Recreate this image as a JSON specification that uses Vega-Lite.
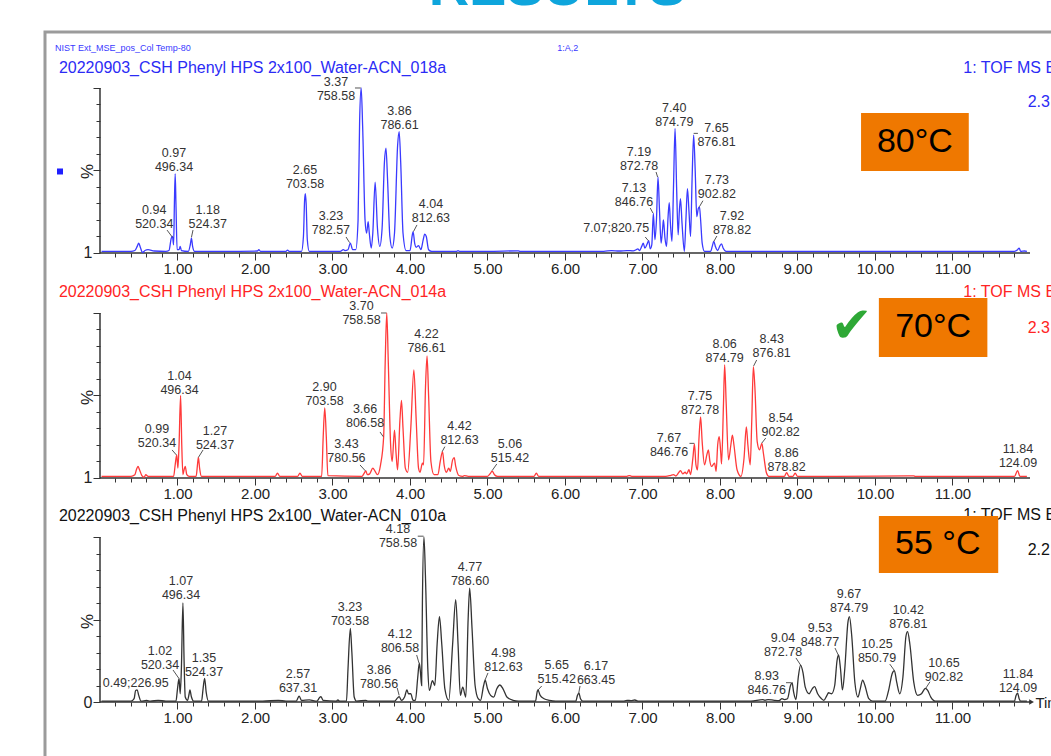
{
"$schema": "https://vega.github.io/schema/vega-lite/v6.json",
"width": 1051, "height": 756,
"autosize": {"type": "fit", "contains": "padding"},
"padding": 0,
"background": "white",
"config": {"view": {"stroke": null}, "font": "Liberation Sans", "text": {"font": "Liberation Sans"}},
"datasets": {
"blue": [
{"t":0.02,"v":1},{"t":0.40,"v":1},{"t":0.45,"v":1.5},{"t":0.48,"v":4},{"t":0.50,"v":6},{"t":0.52,"v":3.5},{"t":0.55,"v":0.3},{"t":0.58,"v":1.5},{"t":0.62,"v":2},{"t":0.70,"v":1.2},{"t":0.85,"v":1},{"t":0.89,"v":1.5},{"t":0.92,"v":9},{"t":0.935,"v":10},{"t":0.95,"v":5},{"t":0.96,"v":30},{"t":0.97,"v":48},{"t":0.98,"v":30},{"t":0.995,"v":2},{"t":1.02,"v":2},{"t":1.035,"v":4},{"t":1.05,"v":1.5},{"t":1.14,"v":1},{"t":1.165,"v":5},{"t":1.18,"v":9},{"t":1.195,"v":4},{"t":1.22,"v":1},{"t":1.60,"v":1},{"t":2.03,"v":1.2},{"t":2.05,"v":2},{"t":2.07,"v":1},{"t":2.40,"v":1},{"t":2.42,"v":1.8},{"t":2.44,"v":1},{"t":2.60,"v":1},{"t":2.625,"v":10},{"t":2.64,"v":32},{"t":2.65,"v":36},{"t":2.66,"v":30},{"t":2.675,"v":8},{"t":2.70,"v":1},{"t":3.10,"v":1},{"t":3.14,"v":2},{"t":3.16,"v":1.5},{"t":3.20,"v":2},{"t":3.23,"v":6},{"t":3.26,"v":2},{"t":3.30,"v":2},{"t":3.33,"v":20},{"t":3.35,"v":80},{"t":3.37,"v":100},{"t":3.39,"v":75},{"t":3.42,"v":20},{"t":3.44,"v":12},{"t":3.46,"v":19},{"t":3.475,"v":12},{"t":3.50,"v":3},{"t":3.52,"v":12},{"t":3.55,"v":43},{"t":3.58,"v":15},{"t":3.61,"v":4},{"t":3.64,"v":15},{"t":3.67,"v":55},{"t":3.69,"v":63.5},{"t":3.71,"v":45},{"t":3.74,"v":10},{"t":3.77,"v":3},{"t":3.80,"v":12},{"t":3.84,"v":65},{"t":3.86,"v":73.5},{"t":3.88,"v":55},{"t":3.91,"v":12},{"t":3.95,"v":1.5},{"t":4.00,"v":1.5},{"t":4.03,"v":11},{"t":4.04,"v":13},{"t":4.06,"v":6},{"t":4.08,"v":3.5},{"t":4.11,"v":4.5},{"t":4.14,"v":2},{"t":4.17,"v":8},{"t":4.19,"v":11.5},{"t":4.21,"v":10},{"t":4.24,"v":2},{"t":4.28,"v":1},{"t":4.60,"v":1},{"t":4.62,"v":1.5},{"t":4.64,"v":1},{"t":5.00,"v":1},{"t":5.40,"v":1.3},{"t":5.42,"v":1},{"t":6.50,"v":1},{"t":6.60,"v":1.5},{"t":6.70,"v":1.2},{"t":6.80,"v":1.5},{"t":6.88,"v":1.3},{"t":6.92,"v":2},{"t":6.94,"v":2.5},{"t":6.96,"v":1.5},{"t":6.99,"v":4},{"t":7.01,"v":6},{"t":7.03,"v":3},{"t":7.06,"v":5.5},{"t":7.08,"v":7.5},{"t":7.10,"v":2.5},{"t":7.12,"v":5},{"t":7.14,"v":24},{"t":7.16,"v":8},{"t":7.18,"v":20},{"t":7.20,"v":46},{"t":7.22,"v":25},{"t":7.24,"v":6},{"t":7.26,"v":15},{"t":7.27,"v":20},{"t":7.29,"v":9},{"t":7.31,"v":4},{"t":7.33,"v":22},{"t":7.345,"v":30.5},{"t":7.36,"v":18},{"t":7.38,"v":7},{"t":7.40,"v":40},{"t":7.42,"v":75.5},{"t":7.44,"v":40},{"t":7.46,"v":11},{"t":7.475,"v":25},{"t":7.49,"v":33},{"t":7.51,"v":18},{"t":7.54,"v":1},{"t":7.56,"v":20},{"t":7.58,"v":39},{"t":7.60,"v":25},{"t":7.62,"v":10},{"t":7.64,"v":45},{"t":7.66,"v":71.5},{"t":7.68,"v":50},{"t":7.70,"v":22},{"t":7.72,"v":27},{"t":7.735,"v":28},{"t":7.75,"v":20},{"t":7.77,"v":6},{"t":7.80,"v":1},{"t":7.88,"v":1},{"t":7.90,"v":4},{"t":7.92,"v":7},{"t":7.94,"v":4},{"t":7.97,"v":1.5},{"t":8.00,"v":4.5},{"t":8.02,"v":5.5},{"t":8.04,"v":3},{"t":8.08,"v":1},{"t":9.00,"v":1},{"t":11.80,"v":1},{"t":11.84,"v":2},{"t":11.86,"v":3},{"t":11.88,"v":1},{"t":11.93,"v":1.2},{"t":11.96,"v":1}
],
"red": [
{"t":0.02,"v":1},{"t":0.40,"v":1},{"t":0.45,"v":2},{"t":0.47,"v":5},{"t":0.49,"v":7},{"t":0.51,"v":5},{"t":0.54,"v":1.5},{"t":0.57,"v":0.5},{"t":0.59,"v":2},{"t":0.62,"v":1},{"t":0.95,"v":1},{"t":0.97,"v":8},{"t":0.99,"v":14},{"t":1.005,"v":6},{"t":1.02,"v":20},{"t":1.04,"v":50},{"t":1.055,"v":20},{"t":1.07,"v":2},{"t":1.085,"v":5},{"t":1.10,"v":7},{"t":1.12,"v":2},{"t":1.15,"v":1},{"t":1.24,"v":1},{"t":1.26,"v":9},{"t":1.27,"v":12.5},{"t":1.285,"v":6},{"t":1.31,"v":1},{"t":2.26,"v":1},{"t":2.29,"v":3},{"t":2.32,"v":1},{"t":2.55,"v":1},{"t":2.58,"v":3},{"t":2.61,"v":1},{"t":2.86,"v":1},{"t":2.88,"v":25},{"t":2.90,"v":42.5},{"t":2.92,"v":25},{"t":2.94,"v":1.5},{"t":3.38,"v":1},{"t":3.41,"v":3},{"t":3.43,"v":4.3},{"t":3.45,"v":2},{"t":3.48,"v":2.5},{"t":3.52,"v":6},{"t":3.55,"v":4},{"t":3.58,"v":2},{"t":3.62,"v":8},{"t":3.66,"v":25},{"t":3.68,"v":70},{"t":3.70,"v":100},{"t":3.72,"v":70},{"t":3.75,"v":20},{"t":3.77,"v":10},{"t":3.80,"v":29},{"t":3.82,"v":15},{"t":3.84,"v":5},{"t":3.87,"v":35},{"t":3.89,"v":47},{"t":3.91,"v":30},{"t":3.94,"v":6},{"t":3.97,"v":3.5},{"t":4.01,"v":30},{"t":4.05,"v":65.5},{"t":4.08,"v":35},{"t":4.11,"v":6},{"t":4.13,"v":3.5},{"t":4.16,"v":9},{"t":4.175,"v":8},{"t":4.20,"v":55},{"t":4.22,"v":74},{"t":4.24,"v":50},{"t":4.27,"v":10},{"t":4.31,"v":2},{"t":4.36,"v":2},{"t":4.39,"v":10},{"t":4.42,"v":16},{"t":4.44,"v":8},{"t":4.47,"v":3.5},{"t":4.50,"v":6},{"t":4.52,"v":4},{"t":4.55,"v":11},{"t":4.57,"v":12.3},{"t":4.59,"v":7},{"t":4.63,"v":1.5},{"t":4.68,"v":1},{"t":4.70,"v":1.5},{"t":4.75,"v":1},{"t":5.00,"v":1},{"t":5.04,"v":3},{"t":5.06,"v":4.2},{"t":5.09,"v":2},{"t":5.13,"v":1},{"t":5.60,"v":1},{"t":5.63,"v":3},{"t":5.66,"v":1},{"t":6.80,"v":1},{"t":6.83,"v":1.5},{"t":6.86,"v":1},{"t":7.30,"v":1},{"t":7.36,"v":1.5},{"t":7.40,"v":2},{"t":7.43,"v":1.2},{"t":7.47,"v":3.5},{"t":7.49,"v":4.5},{"t":7.52,"v":2.5},{"t":7.55,"v":3.5},{"t":7.57,"v":2.5},{"t":7.60,"v":5},{"t":7.62,"v":2},{"t":7.65,"v":12},{"t":7.67,"v":20.6},{"t":7.69,"v":8},{"t":7.71,"v":5},{"t":7.73,"v":25},{"t":7.75,"v":37},{"t":7.77,"v":22},{"t":7.80,"v":8},{"t":7.83,"v":14},{"t":7.85,"v":17},{"t":7.87,"v":10},{"t":7.89,"v":7},{"t":7.93,"v":9},{"t":7.95,"v":4},{"t":7.97,"v":20},{"t":7.99,"v":25},{"t":8.01,"v":15},{"t":8.02,"v":8.5},{"t":8.045,"v":45},{"t":8.06,"v":68.5},{"t":8.08,"v":45},{"t":8.11,"v":11},{"t":8.14,"v":20},{"t":8.16,"v":26},{"t":8.18,"v":20},{"t":8.22,"v":5},{"t":8.27,"v":1},{"t":8.31,"v":12},{"t":8.34,"v":31},{"t":8.36,"v":20},{"t":8.39,"v":8},{"t":8.41,"v":35},{"t":8.43,"v":67.5},{"t":8.45,"v":55},{"t":8.48,"v":22},{"t":8.51,"v":17},{"t":8.54,"v":21},{"t":8.56,"v":15},{"t":8.60,"v":3},{"t":8.63,"v":1},{"t":8.83,"v":1},{"t":8.86,"v":3.2},{"t":8.89,"v":1},{"t":8.94,"v":1},{"t":8.97,"v":3},{"t":9.00,"v":1},{"t":9.50,"v":1},{"t":10.50,"v":1.3},{"t":10.52,"v":1},{"t":11.80,"v":1},{"t":11.84,"v":4.5},{"t":11.87,"v":1},{"t":11.96,"v":1}
],
"black": [
{"t":0.02,"v":0.5},{"t":0.40,"v":0.5},{"t":0.44,"v":2},{"t":0.46,"v":7},{"t":0.48,"v":7.3},{"t":0.50,"v":4},{"t":0.53,"v":0.5},{"t":0.60,"v":1},{"t":0.65,"v":0.5},{"t":0.75,"v":1},{"t":0.85,"v":0.5},{"t":0.98,"v":0.5},{"t":1.00,"v":8},{"t":1.02,"v":14.3},{"t":1.035,"v":5},{"t":1.05,"v":20},{"t":1.07,"v":60},{"t":1.085,"v":25},{"t":1.10,"v":3},{"t":1.13,"v":1},{"t":1.15,"v":5},{"t":1.16,"v":7.3},{"t":1.18,"v":3},{"t":1.21,"v":0.5},{"t":1.31,"v":0.5},{"t":1.33,"v":8},{"t":1.35,"v":14.3},{"t":1.37,"v":6},{"t":1.40,"v":0.5},{"t":2.10,"v":0.5},{"t":2.30,"v":1},{"t":2.40,"v":0.5},{"t":2.53,"v":0.5},{"t":2.56,"v":3},{"t":2.57,"v":3.6},{"t":2.60,"v":1},{"t":2.70,"v":1.3},{"t":2.80,"v":0.5},{"t":2.83,"v":2.5},{"t":2.85,"v":3.3},{"t":2.88,"v":1},{"t":3.05,"v":0.5},{"t":3.07,"v":1.3},{"t":3.09,"v":0.5},{"t":3.18,"v":0.5},{"t":3.20,"v":20},{"t":3.23,"v":44.6},{"t":3.25,"v":30},{"t":3.28,"v":3},{"t":3.31,"v":0.5},{"t":3.43,"v":1},{"t":3.46,"v":0.5},{"t":3.80,"v":0.5},{"t":3.84,"v":2.5},{"t":3.86,"v":3.2},{"t":3.89,"v":1},{"t":3.93,"v":3},{"t":3.96,"v":7.3},{"t":3.98,"v":5},{"t":4.01,"v":5},{"t":4.04,"v":1},{"t":4.07,"v":1},{"t":4.10,"v":15},{"t":4.12,"v":23.5},{"t":4.135,"v":18},{"t":4.15,"v":10},{"t":4.16,"v":60},{"t":4.18,"v":100},{"t":4.20,"v":75},{"t":4.23,"v":20},{"t":4.25,"v":7},{"t":4.29,"v":13},{"t":4.32,"v":10},{"t":4.35,"v":35},{"t":4.38,"v":51.7},{"t":4.41,"v":35},{"t":4.45,"v":8},{"t":4.50,"v":1},{"t":4.55,"v":35},{"t":4.59,"v":62},{"t":4.62,"v":35},{"t":4.65,"v":4},{"t":4.68,"v":9},{"t":4.72,"v":3},{"t":4.75,"v":50},{"t":4.77,"v":69},{"t":4.80,"v":45},{"t":4.84,"v":10},{"t":4.88,"v":2},{"t":4.91,"v":1},{"t":4.95,"v":10},{"t":4.97,"v":13.3},{"t":5.00,"v":8},{"t":5.04,"v":4},{"t":5.08,"v":3},{"t":5.12,"v":8},{"t":5.16,"v":10.3},{"t":5.20,"v":8},{"t":5.25,"v":3},{"t":5.33,"v":1},{"t":5.40,"v":0.5},{"t":5.62,"v":0.5},{"t":5.64,"v":6},{"t":5.65,"v":7.3},{"t":5.68,"v":4},{"t":5.73,"v":2},{"t":5.80,"v":1},{"t":5.88,"v":0.5},{"t":6.14,"v":0.5},{"t":6.16,"v":4},{"t":6.18,"v":5.3},{"t":6.20,"v":2},{"t":6.23,"v":0.5},{"t":6.75,"v":0.5},{"t":6.80,"v":1},{"t":6.85,"v":0.8},{"t":6.90,"v":1.2},{"t":6.95,"v":0.5},{"t":8.40,"v":0.5},{"t":8.55,"v":1.5},{"t":8.58,"v":1},{"t":8.62,"v":1.5},{"t":8.70,"v":1},{"t":8.76,"v":0.8},{"t":8.80,"v":2},{"t":8.83,"v":1.5},{"t":8.87,"v":2},{"t":8.91,"v":10},{"t":8.93,"v":11.7},{"t":8.95,"v":6},{"t":8.98,"v":1.5},{"t":9.01,"v":15},{"t":9.04,"v":22.4},{"t":9.07,"v":18},{"t":9.10,"v":9},{"t":9.15,"v":5},{"t":9.19,"v":8},{"t":9.22,"v":9.3},{"t":9.26,"v":5},{"t":9.31,"v":2},{"t":9.34,"v":1},{"t":9.38,"v":4},{"t":9.40,"v":5.6},{"t":9.44,"v":5},{"t":9.48,"v":10},{"t":9.51,"v":25},{"t":9.53,"v":28.5},{"t":9.555,"v":20},{"t":9.58,"v":7.3},{"t":9.61,"v":20},{"t":9.65,"v":48},{"t":9.67,"v":51.7},{"t":9.70,"v":40},{"t":9.74,"v":12},{"t":9.78,"v":3},{"t":9.81,"v":8},{"t":9.84,"v":13.3},{"t":9.87,"v":10},{"t":9.92,"v":2},{"t":9.97,"v":0.5},{"t":10.13,"v":0.5},{"t":10.18,"v":8},{"t":10.22,"v":17},{"t":10.25,"v":19},{"t":10.28,"v":12},{"t":10.32,"v":5},{"t":10.36,"v":15},{"t":10.40,"v":40},{"t":10.42,"v":42.6},{"t":10.45,"v":35},{"t":10.50,"v":12},{"t":10.55,"v":4},{"t":10.60,"v":5},{"t":10.65,"v":8.3},{"t":10.68,"v":7},{"t":10.72,"v":3},{"t":10.78,"v":0.5},{"t":11.80,"v":0.5},{"t":11.82,"v":4},{"t":11.84,"v":5.3},{"t":11.86,"v":2},{"t":11.88,"v":0.5},{"t":11.96,"v":0.5}
],
"lab1": [
{"l":"0.94\n520.34","lx":0.70,"ly":21.8,"ax":0.865,"ay":13.9,"bx":0.935,"by":9.5},
{"l":"0.97\n496.34","lx":0.955,"ly":56.3},
{"l":"1.18\n524.37","lx":1.39,"ly":21.8,"ax":1.20,"ay":13.9,"bx":1.18,"by":9.5},
{"l":"2.65\n703.58","lx":2.645,"ly":45.8},
{"l":"3.23\n782.57","lx":2.98,"ly":18.2,"ax":3.175,"ay":9.7,"bx":3.22,"by":6.3},
{"l":"3.37\n758.58","lx":3.045,"ly":99.3,"ax":3.29,"ay":100,"bx":3.365,"by":100},
{"l":"3.86\n786.61","lx":3.865,"ly":81.8},
{"l":"4.04\n812.63","lx":4.27,"ly":25.5,"ax":4.09,"ay":17,"bx":4.045,"by":13},
{"l":"7.07;820.75","lx":6.66,"ly":11,"ax":7.035,"ay":9.7,"bx":7.075,"by":7.5},
{"l":"7.13\n846.76","lx":6.89,"ly":35.2,"ax":7.10,"ay":27.3,"bx":7.135,"by":24.2},
{"l":"7.19\n872.78","lx":6.955,"ly":57,"ax":7.175,"ay":49.1,"bx":7.195,"by":46},
{"l":"7.40\n874.79","lx":7.41,"ly":83.8},
{"l":"7.65\n876.81","lx":7.955,"ly":71.5,"ax":7.66,"ay":72.5,"bx":7.715,"by":72.5},
{"l":"7.73\n902.82","lx":7.96,"ly":40,"ax":7.78,"ay":31.7,"bx":7.735,"by":28.1},
{"l":"7.92\n878.82","lx":8.155,"ly":18.2,"ax":7.96,"ay":10.3,"bx":7.92,"by":7}
],
"lab2": [
{"l":"0.99\n520.34","lx":0.735,"ly":25.5,"ax":0.93,"ay":17,"bx":0.985,"by":14},
{"l":"1.04\n496.34","lx":1.026,"ly":57.8},
{"l":"1.27\n524.37","lx":1.484,"ly":24.3,"ax":1.33,"ay":17,"bx":1.27,"by":12.5},
{"l":"2.90\n703.58","lx":2.897,"ly":50.9},
{"l":"3.43\n780.56","lx":3.18,"ly":16.4,"ax":3.355,"ay":7.9,"bx":3.425,"by":4.3},
{"l":"3.66\n806.58","lx":3.42,"ly":37.6,"ax":3.613,"ay":27.9,"bx":3.655,"by":25},
{"l":"3.70\n758.58","lx":3.374,"ly":100,"ax":3.626,"ay":100,"bx":3.695,"by":100},
{"l":"4.22\n786.61","lx":4.213,"ly":83.1},
{"l":"4.42\n812.63","lx":4.639,"ly":27.3,"ax":4.45,"ay":19,"bx":4.415,"by":16},
{"l":"5.06\n515.42","lx":5.29,"ly":16.4,"ax":5.12,"ay":8.5,"bx":5.06,"by":4.5},
{"l":"7.67\n846.76","lx":7.342,"ly":20,"ax":7.606,"ay":21,"bx":7.668,"by":21},
{"l":"7.75\n872.78","lx":7.742,"ly":45.5},
{"l":"8.06\n874.79","lx":8.06,"ly":77},
{"l":"8.43\n876.81","lx":8.667,"ly":80,"ax":8.473,"ay":71.5,"bx":8.434,"by":67.9},
{"l":"8.54\n902.82","lx":8.783,"ly":32.3,"ax":8.59,"ay":24.2,"bx":8.54,"by":21.2},
{"l":"8.86\n878.82","lx":8.86,"ly":11.1},
{"l":"11.84\n124.09","lx":11.845,"ly":13.4}
],
"lab3": [
{"l":"0.49;226.95","lx":0.461,"ly":7.2},
{"l":"1.02\n520.34","lx":0.774,"ly":26.7,"ax":0.942,"ay":19.4,"bx":1.015,"by":14.5},
{"l":"1.07\n496.34","lx":1.045,"ly":69.1},
{"l":"1.35\n524.37","lx":1.342,"ly":22.6},
{"l":"2.57\n637.31","lx":2.555,"ly":12.6},
{"l":"3.23\n703.58","lx":3.226,"ly":53.3},
{"l":"3.86\n780.56","lx":3.60,"ly":15.2,"ax":3.835,"ay":8.5,"bx":3.86,"by":4},
{"l":"4.12\n806.58","lx":3.871,"ly":37,"ax":4.086,"ay":28.5,"bx":4.116,"by":23.6},
{"l":"4.18\n758.58","lx":3.845,"ly":100.6,"ax":4.10,"ay":100.5,"bx":4.175,"by":100.5},
{"l":"4.77\n786.60","lx":4.774,"ly":77.6},
{"l":"4.98\n812.63","lx":5.206,"ly":25.7,"ax":5.006,"ay":17.6,"bx":4.968,"by":13.3},
{"l":"5.65\n515.42","lx":5.893,"ly":18.2,"ax":5.70,"ay":9.7,"bx":5.647,"by":7},
{"l":"6.17\n663.45","lx":6.40,"ly":17.6,"ax":6.194,"ay":9.7,"bx":6.177,"by":5.3},
{"l":"8.93\n846.76","lx":8.603,"ly":11.5,"ax":8.852,"ay":11.7,"bx":8.916,"by":11.7},
{"l":"9.04\n872.78","lx":8.813,"ly":34.8,"ax":8.98,"ay":26.7,"bx":9.04,"by":22.4},
{"l":"9.53\n848.77","lx":9.29,"ly":40.8,"ax":9.484,"ay":32.7,"bx":9.526,"by":28.5},
{"l":"9.67\n874.79","lx":9.665,"ly":61.1},
{"l":"10.25\n850.79","lx":10.026,"ly":31.1,"ax":10.19,"ay":23,"bx":10.252,"by":19},
{"l":"10.42\n876.81","lx":10.43,"ly":51.3},
{"l":"10.65\n902.82","lx":10.89,"ly":19.6,"ax":10.71,"ay":12.3,"bx":10.658,"by":8.5},
{"l":"11.84\n124.09","lx":11.845,"ly":12.9}
]
},
"layer": [
{
"resolve": {"scale": {"x": "independent", "y": "independent"}, "axis": {"x": "independent", "y": "independent"}},
"layer": [
{"data": {"values": [{}]}, "mark": {"type": "rect", "fill": "transparent", "stroke": "#9b9b9b", "strokeWidth": 3, "clip": true},
 "encoding": {"x": {"datum": -0.7097, "type": "quantitative", "scale": {"domain": [-1.29032, 12.27097], "nice": false, "zero": false}, "axis": null}, "x2": {"datum": 13.5},
  "y": {"datum": 133.9, "type": "quantitative", "scale": {"domain": [-304.848, 153.333], "nice": false, "zero": false}, "axis": null}, "y2": {"datum": -350}}},
{"data": {"values": [{}]}, "mark": {"type": "text", "text": "RESULTS", "font": "Liberation Sans", "fontWeight": "bold", "fontSize": 56, "color": "#0ea5dc", "align": "center", "baseline": "alphabetic", "clip": true},
 "encoding": {"x": {"datum": 5.9, "type": "quantitative", "scale": {"domain": [-1.29032, 12.27097], "nice": false, "zero": false}, "axis": null},
  "y": {"datum": 150.4, "type": "quantitative", "scale": {"domain": [-304.848, 153.333], "nice": false, "zero": false}, "axis": null}}},
{"data": {"values": [{}]}, "mark": {"type": "text", "text": "NIST Ext_MSE_pos_Col Temp-80", "fontSize": 9, "color": "#3a3aff", "align": "left", "baseline": "alphabetic", "clip": true},
 "encoding": {"x": {"datum": -0.58, "type": "quantitative", "scale": {"domain": [-1.29032, 12.27097], "nice": false, "zero": false}, "axis": null},
  "y": {"datum": 122.5, "type": "quantitative", "scale": {"domain": [-304.848, 153.333], "nice": false, "zero": false}, "axis": null}}},
{"data": {"values": [{}]}, "mark": {"type": "text", "text": "1:A,2", "fontSize": 9, "color": "#3a3aff", "align": "left", "baseline": "alphabetic", "clip": true},
 "encoding": {"x": {"datum": 5.90, "type": "quantitative", "scale": {"domain": [-1.29032, 12.27097], "nice": false, "zero": false}, "axis": null},
  "y": {"datum": 122.5, "type": "quantitative", "scale": {"domain": [-304.848, 153.333], "nice": false, "zero": false}, "axis": null}}},
{"data": {"values": [{}]}, "mark": {"type": "text", "text": "20220903_CSH Phenyl HPS 2x100_Water-ACN_018a", "fontSize": 16, "color": "#2b2bf5", "align": "left", "baseline": "alphabetic", "clip": true},
 "encoding": {"x": {"datum": -0.53, "type": "quantitative", "scale": {"domain": [-1.29032, 12.27097], "nice": false, "zero": false}, "axis": null},
  "y": {"datum": 109.3, "type": "quantitative", "scale": {"domain": [-304.848, 153.333], "nice": false, "zero": false}, "axis": null}}},
{"data": {"values": [{}]}, "mark": {"type": "text", "text": "1: TOF MS E", "fontSize": 16, "color": "#2b2bf5", "align": "left", "baseline": "alphabetic", "clip": true},
 "encoding": {"x": {"datum": 11.14, "type": "quantitative", "scale": {"domain": [-1.29032, 12.27097], "nice": false, "zero": false}, "axis": null},
  "y": {"datum": 109.3, "type": "quantitative", "scale": {"domain": [-304.848, 153.333], "nice": false, "zero": false}, "axis": null}}},
{"data": {"values": [{}]}, "mark": {"type": "text", "text": "2.3", "fontSize": 16, "color": "#2b2bf5", "align": "left", "baseline": "alphabetic", "clip": true},
 "encoding": {"x": {"datum": 11.97, "type": "quantitative", "scale": {"domain": [-1.29032, 12.27097], "nice": false, "zero": false}, "axis": null},
  "y": {"datum": 88.5, "type": "quantitative", "scale": {"domain": [-304.848, 153.333], "nice": false, "zero": false}, "axis": null}}},
{"data": {"values": [{}]}, "mark": {"type": "point", "shape": "square", "size": 36, "filled": true, "opacity": 1, "color": "#1f1fff"},
 "encoding": {"x": {"datum": -0.516, "type": "quantitative", "scale": {"domain": [-1.29032, 12.27097], "nice": false, "zero": false}, "axis": null},
  "y": {"datum": 49.4, "type": "quantitative", "scale": {"domain": [-304.848, 153.333], "nice": false, "zero": false}, "axis": null}}},
{"data": {"values": [{}]}, "mark": {"type": "rect", "color": "#ef7800"},
 "encoding": {"x": {"datum": 9.82, "type": "quantitative", "scale": {"domain": [-1.29032, 12.27097], "nice": false, "zero": false}, "axis": null}, "x2": {"datum": 11.21},
  "y": {"datum": 84.8, "type": "quantitative", "scale": {"domain": [-304.848, 153.333], "nice": false, "zero": false}, "axis": null}, "y2": {"datum": 49.7}}},
{"data": {"values": [{}]}, "mark": {"type": "text", "text": "80°C", "fontSize": 34, "color": "#000000", "align": "center", "baseline": "middle"},
 "encoding": {"x": {"datum": 10.515, "type": "quantitative", "scale": {"domain": [-1.29032, 12.27097], "nice": false, "zero": false}, "axis": null},
  "y": {"datum": 67.3, "type": "quantitative", "scale": {"domain": [-304.848, 153.333], "nice": false, "zero": false}, "axis": null}}},
{"data": {"values": [{}]}, "mark": {"type": "rule", "color": "#333333", "strokeWidth": 1.5},
 "encoding": {"x": {"datum": 0, "type": "quantitative", "scale": {"domain": [-1.29032, 12.27097], "nice": false, "zero": false},
   "axis": {"orient": "bottom", "offset": -503, "domain": false, "grid": false, "title": null, "labels": false, "tickColor": "#333333", "tickWidth": 1, "tickSize": 4,
    "values": [0.2,0.4,0.6,0.8,1.2,1.4,1.6,1.8,2.2,2.4,2.6,2.8,3.2,3.4,3.6,3.8,4.2,4.4,4.6,4.8,5.2,5.4,5.6,5.8,6.2,6.4,6.6,6.8,7.2,7.4,7.6,7.8,8.2,8.4,8.6,8.8,9.2,9.4,9.6,9.8,10.2,10.4,10.6,10.8,11.2,11.4,11.6,11.8]}}, "x2": {"datum": 12},
  "y": {"datum": 0, "type": "quantitative", "scale": {"domain": [-304.848, 153.333], "nice": false, "zero": false}, "axis": null}}},
{"data": {"values": [{}]}, "mark": {"type": "rule", "color": "#333333", "strokeWidth": 1.5},
 "encoding": {"x": {"datum": 0, "type": "quantitative", "scale": {"domain": [-1.29032, 12.27097], "nice": false, "zero": false}, "axis": null},
  "y": {"datum": 0, "type": "quantitative", "scale": {"domain": [-304.848, 153.333], "nice": false, "zero": false},
   "axis": {"orient": "left", "offset": -100, "domain": false, "grid": false, "title": null, "labels": false, "tickColor": "#333333", "tickWidth": 1, "tickSize": 4, "values": [10,20,30,40,60,70,80,90]}}, "y2": {"datum": 100}}},
{"data": {"name": "blue"}, "mark": {"type": "line", "color": "#3a3aff", "strokeWidth": 1.3, "interpolate": "monotone"},
 "encoding": {
  "x": {"field": "t", "type": "quantitative", "scale": {"domain": [-1.29032, 12.27097], "nice": false, "zero": false},
   "axis": {"orient": "bottom", "offset": -503, "domain": false, "grid": false, "title": null, "values": [1,2,3,4,5,6,7,8,9,10,11], "format": ".2f",
    "tickColor": "#333333", "tickWidth": 1, "tickSize": 7, "labelFontSize": 15, "labelColor": "#222222", "labelPadding": 1, "labelOverlap": false, "labelFlush": false, "labelFont": "Liberation Sans"}},
  "y": {"field": "v", "type": "quantitative", "scale": {"domain": [-304.848, 153.333], "nice": false, "zero": false},
   "axis": {"orient": "left", "offset": -100, "domain": false, "grid": false, "values": [0,50,100],
    "tickColor": "#333333", "tickWidth": 1, "tickSize": 7,
    "labelExpr": "datum.value === 0 ? '1' : ''", "labelFontSize": 16, "labelColor": "#222222", "labelPadding": 1, "labelOverlap": false, "labelFont": "Liberation Sans",
    "title": "%", "titleFont": "Liberation Sans", "titleFontSize": 17, "titleFontWeight": "normal", "titleColor": "#222222", "titleX": -4, "titleY": 171, "titleAngle": -90, "titleBaseline": "bottom", "titleAlign": "center"}}}},
{"data": {"name": "lab1"}, "transform": [{"filter": "isValid(datum.ax)"}], "mark": {"type": "rule", "color": "#555555", "strokeWidth": 1},
 "encoding": {"x": {"field": "ax", "type": "quantitative", "scale": {"domain": [-1.29032, 12.27097], "nice": false, "zero": false}, "axis": null}, "x2": {"field": "bx"},
  "y": {"field": "ay", "type": "quantitative", "scale": {"domain": [-304.848, 153.333], "nice": false, "zero": false}, "axis": null}, "y2": {"field": "by"}}},
{"data": {"name": "lab1"}, "mark": {"type": "text", "fontSize": 12.5, "lineHeight": 14, "lineBreak": "\n", "color": "#333333", "align": "center", "baseline": "bottom"},
 "encoding": {"x": {"field": "lx", "type": "quantitative", "scale": {"domain": [-1.29032, 12.27097], "nice": false, "zero": false}, "axis": null},
  "y": {"field": "ly", "type": "quantitative", "scale": {"domain": [-304.848, 153.333], "nice": false, "zero": false}, "axis": null}, "text": {"field": "l"}}}
]
},
{
"resolve": {"scale": {"x": "independent", "y": "independent"}, "axis": {"x": "independent", "y": "independent"}},
"layer": [
{"data": {"values": [{}]}, "mark": {"type": "text", "text": "20220903_CSH Phenyl HPS 2x100_Water-ACN_014a", "fontSize": 16, "color": "#ff2424", "align": "left", "baseline": "alphabetic", "clip": true},
 "encoding": {"x": {"datum": -0.53, "type": "quantitative", "scale": {"domain": [-1.29032, 12.27097], "nice": false, "zero": false}, "axis": null},
  "y": {"datum": 109.7, "type": "quantitative", "scale": {"domain": [-168.485, 289.697], "nice": false, "zero": false}, "axis": null}}},
{"data": {"values": [{}]}, "mark": {"type": "text", "text": "1: TOF MS E", "fontSize": 16, "color": "#ff2424", "align": "left", "baseline": "alphabetic", "clip": true},
 "encoding": {"x": {"datum": 11.14, "type": "quantitative", "scale": {"domain": [-1.29032, 12.27097], "nice": false, "zero": false}, "axis": null},
  "y": {"datum": 109.7, "type": "quantitative", "scale": {"domain": [-168.485, 289.697], "nice": false, "zero": false}, "axis": null}}},
{"data": {"values": [{}]}, "mark": {"type": "text", "text": "2.3", "fontSize": 16, "color": "#ff2424", "align": "left", "baseline": "alphabetic", "clip": true},
 "encoding": {"x": {"datum": 11.97, "type": "quantitative", "scale": {"domain": [-1.29032, 12.27097], "nice": false, "zero": false}, "axis": null},
  "y": {"datum": 87.9, "type": "quantitative", "scale": {"domain": [-168.485, 289.697], "nice": false, "zero": false}, "axis": null}}},
{"data": {"values": [{}]}, "mark": {"type": "rect", "color": "#ef7800"},
 "encoding": {"x": {"datum": 10.05, "type": "quantitative", "scale": {"domain": [-1.29032, 12.27097], "nice": false, "zero": false}, "axis": null}, "x2": {"datum": 11.45},
  "y": {"datum": 109.1, "type": "quantitative", "scale": {"domain": [-168.485, 289.697], "nice": false, "zero": false}, "axis": null}, "y2": {"datum": 73.3}}},
{"data": {"values": [{}]}, "mark": {"type": "text", "text": "70°C", "fontSize": 34, "color": "#000000", "align": "center", "baseline": "middle"},
 "encoding": {"x": {"datum": 10.75, "type": "quantitative", "scale": {"domain": [-1.29032, 12.27097], "nice": false, "zero": false}, "axis": null},
  "y": {"datum": 91.5, "type": "quantitative", "scale": {"domain": [-168.485, 289.697], "nice": false, "zero": false}, "axis": null}}},
{"data": {"values": [{}]}, "mark": {"type": "text", "text": "✔", "font": "DejaVu Sans", "fontSize": 50, "color": "#2ea836", "align": "center", "baseline": "middle"},
 "encoding": {"x": {"datum": 9.70, "type": "quantitative", "scale": {"domain": [-1.29032, 12.27097], "nice": false, "zero": false}, "axis": null},
  "y": {"datum": 91.5, "type": "quantitative", "scale": {"domain": [-168.485, 289.697], "nice": false, "zero": false}, "axis": null}}},
{"data": {"values": [{}]}, "mark": {"type": "rule", "color": "#333333", "strokeWidth": 1.5},
 "encoding": {"x": {"datum": 0, "type": "quantitative", "scale": {"domain": [-1.29032, 12.27097], "nice": false, "zero": false},
   "axis": {"orient": "bottom", "offset": -278, "domain": false, "grid": false, "title": null, "labels": false, "tickColor": "#333333", "tickWidth": 1, "tickSize": 4,
    "values": [0.2,0.4,0.6,0.8,1.2,1.4,1.6,1.8,2.2,2.4,2.6,2.8,3.2,3.4,3.6,3.8,4.2,4.4,4.6,4.8,5.2,5.4,5.6,5.8,6.2,6.4,6.6,6.8,7.2,7.4,7.6,7.8,8.2,8.4,8.6,8.8,9.2,9.4,9.6,9.8,10.2,10.4,10.6,10.8,11.2,11.4,11.6,11.8]}}, "x2": {"datum": 12},
  "y": {"datum": 0, "type": "quantitative", "scale": {"domain": [-168.485, 289.697], "nice": false, "zero": false}, "axis": null}}},
{"data": {"values": [{}]}, "mark": {"type": "rule", "color": "#333333", "strokeWidth": 1.5},
 "encoding": {"x": {"datum": 0, "type": "quantitative", "scale": {"domain": [-1.29032, 12.27097], "nice": false, "zero": false}, "axis": null},
  "y": {"datum": 0, "type": "quantitative", "scale": {"domain": [-168.485, 289.697], "nice": false, "zero": false},
   "axis": {"orient": "left", "offset": -100, "domain": false, "grid": false, "title": null, "labels": false, "tickColor": "#333333", "tickWidth": 1, "tickSize": 4, "values": [10,20,30,40,60,70,80,90]}}, "y2": {"datum": 100}}},
{"data": {"name": "red"}, "mark": {"type": "line", "color": "#ff3a3a", "strokeWidth": 1.3, "interpolate": "monotone"},
 "encoding": {
  "x": {"field": "t", "type": "quantitative", "scale": {"domain": [-1.29032, 12.27097], "nice": false, "zero": false},
   "axis": {"orient": "bottom", "offset": -278, "domain": false, "grid": false, "title": null, "values": [1,2,3,4,5,6,7,8,9,10,11], "format": ".2f",
    "tickColor": "#333333", "tickWidth": 1, "tickSize": 7, "labelFontSize": 15, "labelColor": "#222222", "labelPadding": 1, "labelOverlap": false, "labelFlush": false, "labelFont": "Liberation Sans"}},
  "y": {"field": "v", "type": "quantitative", "scale": {"domain": [-168.485, 289.697], "nice": false, "zero": false},
   "axis": {"orient": "left", "offset": -100, "domain": false, "grid": false, "values": [0,50,100],
    "tickColor": "#333333", "tickWidth": 1, "tickSize": 7,
    "labelExpr": "datum.value === 0 ? '1' : ''", "labelFontSize": 16, "labelColor": "#222222", "labelPadding": 1, "labelOverlap": false, "labelFont": "Liberation Sans",
    "title": "%", "titleFont": "Liberation Sans", "titleFontSize": 17, "titleFontWeight": "normal", "titleColor": "#222222", "titleX": -4, "titleY": 397, "titleAngle": -90, "titleBaseline": "bottom", "titleAlign": "center"}}}},
{"data": {"name": "lab2"}, "transform": [{"filter": "isValid(datum.ax)"}], "mark": {"type": "rule", "color": "#555555", "strokeWidth": 1},
 "encoding": {"x": {"field": "ax", "type": "quantitative", "scale": {"domain": [-1.29032, 12.27097], "nice": false, "zero": false}, "axis": null}, "x2": {"field": "bx"},
  "y": {"field": "ay", "type": "quantitative", "scale": {"domain": [-168.485, 289.697], "nice": false, "zero": false}, "axis": null}, "y2": {"field": "by"}}},
{"data": {"name": "lab2"}, "mark": {"type": "text", "fontSize": 12.5, "lineHeight": 14, "lineBreak": "\n", "color": "#333333", "align": "center", "baseline": "bottom"},
 "encoding": {"x": {"field": "lx", "type": "quantitative", "scale": {"domain": [-1.29032, 12.27097], "nice": false, "zero": false}, "axis": null},
  "y": {"field": "ly", "type": "quantitative", "scale": {"domain": [-168.485, 289.697], "nice": false, "zero": false}, "axis": null}, "text": {"field": "l"}}}
]
},
{
"resolve": {"scale": {"x": "independent", "y": "independent"}, "axis": {"x": "independent", "y": "independent"}},
"layer": [
{"data": {"values": [{}]}, "mark": {"type": "text", "text": "20220903_CSH Phenyl HPS 2x100_Water-ACN_010a", "fontSize": 16, "color": "#111111", "align": "left", "baseline": "alphabetic", "clip": true},
 "encoding": {"x": {"datum": -0.53, "type": "quantitative", "scale": {"domain": [-1.29032, 12.27097], "nice": false, "zero": false}, "axis": null},
  "y": {"datum": 109.7, "type": "quantitative", "scale": {"domain": [-32.727, 425.455], "nice": false, "zero": false}, "axis": null}}},
{"data": {"values": [{}]}, "mark": {"type": "text", "text": "1: TOF MS E", "fontSize": 16, "color": "#111111", "align": "left", "baseline": "alphabetic", "clip": true},
 "encoding": {"x": {"datum": 11.14, "type": "quantitative", "scale": {"domain": [-1.29032, 12.27097], "nice": false, "zero": false}, "axis": null},
  "y": {"datum": 110.3, "type": "quantitative", "scale": {"domain": [-32.727, 425.455], "nice": false, "zero": false}, "axis": null}}},
{"data": {"values": [{}]}, "mark": {"type": "text", "text": "2.2", "fontSize": 16, "color": "#111111", "align": "left", "baseline": "alphabetic", "clip": true},
 "encoding": {"x": {"datum": 11.97, "type": "quantitative", "scale": {"domain": [-1.29032, 12.27097], "nice": false, "zero": false}, "axis": null},
  "y": {"datum": 89.1, "type": "quantitative", "scale": {"domain": [-32.727, 425.455], "nice": false, "zero": false}, "axis": null}}},
{"data": {"values": [{}]}, "mark": {"type": "rect", "color": "#ef7800"},
 "encoding": {"x": {"datum": 10.05, "type": "quantitative", "scale": {"domain": [-1.29032, 12.27097], "nice": false, "zero": false}, "axis": null}, "x2": {"datum": 11.59},
  "y": {"datum": 112.7, "type": "quantitative", "scale": {"domain": [-32.727, 425.455], "nice": false, "zero": false}, "axis": null}, "y2": {"datum": 78.2}}},
{"data": {"values": [{}]}, "mark": {"type": "text", "text": "55 °C", "fontSize": 34, "color": "#000000", "align": "center", "baseline": "middle"},
 "encoding": {"x": {"datum": 10.81, "type": "quantitative", "scale": {"domain": [-1.29032, 12.27097], "nice": false, "zero": false}, "axis": null},
  "y": {"datum": 95.8, "type": "quantitative", "scale": {"domain": [-32.727, 425.455], "nice": false, "zero": false}, "axis": null}}},
{"data": {"values": [{}]}, "mark": {"type": "rule", "color": "#333333", "strokeWidth": 1.5},
 "encoding": {"x": {"datum": 0, "type": "quantitative", "scale": {"domain": [-1.29032, 12.27097], "nice": false, "zero": false},
   "axis": {"orient": "bottom", "offset": -54, "domain": false, "grid": false, "title": null, "labels": false, "tickColor": "#333333", "tickWidth": 1, "tickSize": 4,
    "values": [0.2,0.4,0.6,0.8,1.2,1.4,1.6,1.8,2.2,2.4,2.6,2.8,3.2,3.4,3.6,3.8,4.2,4.4,4.6,4.8,5.2,5.4,5.6,5.8,6.2,6.4,6.6,6.8,7.2,7.4,7.6,7.8,8.2,8.4,8.6,8.8,9.2,9.4,9.6,9.8,10.2,10.4,10.6,10.8,11.2,11.4,11.6,11.8]}}, "x2": {"datum": 12},
  "y": {"datum": 0, "type": "quantitative", "scale": {"domain": [-32.727, 425.455], "nice": false, "zero": false}, "axis": null}}},
{"data": {"values": [{}]}, "mark": {"type": "rule", "color": "#333333", "strokeWidth": 1.5},
 "encoding": {"x": {"datum": 0, "type": "quantitative", "scale": {"domain": [-1.29032, 12.27097], "nice": false, "zero": false}, "axis": null},
  "y": {"datum": 0, "type": "quantitative", "scale": {"domain": [-32.727, 425.455], "nice": false, "zero": false},
   "axis": {"orient": "left", "offset": -100, "domain": false, "grid": false, "title": null, "labels": false, "tickColor": "#333333", "tickWidth": 1, "tickSize": 4, "values": [10,20,30,40,60,70,80,90]}}, "y2": {"datum": 100}}},
{"data": {"values": [{}]}, "mark": {"type": "point", "shape": "triangle-right", "size": 30, "filled": true, "opacity": 1, "color": "#333333"},
 "encoding": {"x": {"datum": 12.02, "type": "quantitative", "scale": {"domain": [-1.29032, 12.27097], "nice": false, "zero": false}, "axis": null},
  "y": {"datum": 0, "type": "quantitative", "scale": {"domain": [-32.727, 425.455], "nice": false, "zero": false}, "axis": null}}},
{"data": {"values": [{}]}, "mark": {"type": "text", "text": "Time", "fontSize": 15, "color": "#222222", "align": "left", "baseline": "middle", "clip": true},
 "encoding": {"x": {"datum": 12.07, "type": "quantitative", "scale": {"domain": [-1.29032, 12.27097], "nice": false, "zero": false}, "axis": null},
  "y": {"datum": -0.5, "type": "quantitative", "scale": {"domain": [-32.727, 425.455], "nice": false, "zero": false}, "axis": null}}},
{"data": {"name": "black"}, "mark": {"type": "line", "color": "#333333", "strokeWidth": 1.3, "interpolate": "monotone"},
 "encoding": {
  "x": {"field": "t", "type": "quantitative", "scale": {"domain": [-1.29032, 12.27097], "nice": false, "zero": false},
   "axis": {"orient": "bottom", "offset": -54, "domain": false, "grid": false, "title": null, "values": [1,2,3,4,5,6,7,8,9,10,11], "format": ".2f",
    "tickColor": "#333333", "tickWidth": 1, "tickSize": 7, "labelFontSize": 15, "labelColor": "#222222", "labelPadding": 1, "labelOverlap": false, "labelFlush": false, "labelFont": "Liberation Sans"}},
  "y": {"field": "v", "type": "quantitative", "scale": {"domain": [-32.727, 425.455], "nice": false, "zero": false},
   "axis": {"orient": "left", "offset": -100, "domain": false, "grid": false, "values": [0,50,100],
    "tickColor": "#333333", "tickWidth": 1, "tickSize": 7,
    "labelExpr": "datum.value === 0 ? '0' : ''", "labelFontSize": 16, "labelColor": "#222222", "labelPadding": 1, "labelOverlap": false, "labelFont": "Liberation Sans",
    "title": "%", "titleFont": "Liberation Sans", "titleFontSize": 17, "titleFontWeight": "normal", "titleColor": "#222222", "titleX": -4, "titleY": 621, "titleAngle": -90, "titleBaseline": "bottom", "titleAlign": "center"}}}},
{"data": {"name": "lab3"}, "transform": [{"filter": "isValid(datum.ax)"}], "mark": {"type": "rule", "color": "#555555", "strokeWidth": 1},
 "encoding": {"x": {"field": "ax", "type": "quantitative", "scale": {"domain": [-1.29032, 12.27097], "nice": false, "zero": false}, "axis": null}, "x2": {"field": "bx"},
  "y": {"field": "ay", "type": "quantitative", "scale": {"domain": [-32.727, 425.455], "nice": false, "zero": false}, "axis": null}, "y2": {"field": "by"}}},
{"data": {"name": "lab3"}, "mark": {"type": "text", "fontSize": 12.5, "lineHeight": 14, "lineBreak": "\n", "color": "#333333", "align": "center", "baseline": "bottom"},
 "encoding": {"x": {"field": "lx", "type": "quantitative", "scale": {"domain": [-1.29032, 12.27097], "nice": false, "zero": false}, "axis": null},
  "y": {"field": "ly", "type": "quantitative", "scale": {"domain": [-32.727, 425.455], "nice": false, "zero": false}, "axis": null}, "text": {"field": "l"}}}
]
}
],
"resolve": {"scale": {"x": "independent", "y": "independent"}, "axis": {"x": "independent", "y": "independent"}}
}
